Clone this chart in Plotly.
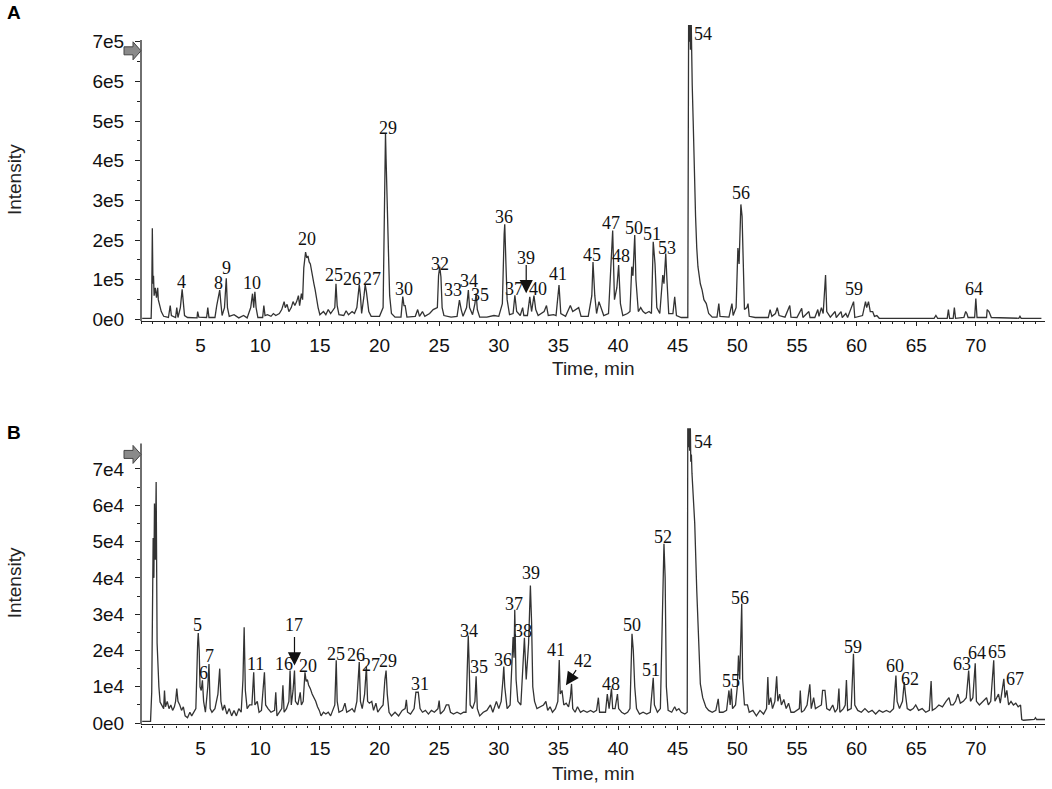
import plotly.graph_objects as go

# ---- data ----
# (time in min, intensity) ; panel A intensity in units of 1e5, panel B in 1e4
trace_a = [
    (0.1, 0.03), (0.85, 0.03), (0.9, 0.6), (0.95, 2.3), (1.0, 0.9), (1.05, 1.1), (1.1, 0.6),
    (1.2, 0.8), (1.3, 0.55), (1.4, 0.8), (1.45, 0.5), (1.55, 0.35), (1.7, 0.2), (1.9, 0.08),
    (2.3, 0.05), (2.45, 0.35), (2.55, 0.1), (2.9, 0.05), (3.0, 0.3), (3.1, 0.05), (3.3, 0.3),
    (3.45, 0.76), (3.55, 0.35), (3.65, 0.1), (3.9, 0.05), (4.7, 0.04), (4.75, 0.2), (4.85, 0.06),
    (5.5, 0.05), (5.6, 0.3), (5.7, 0.05), (6.2, 0.05), (6.35, 0.35), (6.5, 0.6), (6.6, 0.74),
    (6.7, 0.4), (6.8, 0.1), (7.0, 0.3), (7.15, 1.04), (7.25, 0.3), (7.4, 0.08), (7.8, 0.12),
    (8.2, 0.04), (8.6, 0.1), (8.9, 0.04), (9.2, 0.3), (9.35, 0.65), (9.45, 0.3), (9.55, 0.7),
    (9.65, 0.3), (9.8, 0.05), (10.2, 0.05), (10.3, 0.35), (10.4, 0.1), (10.6, 0.12), (10.9, 0.08),
    (11.1, 0.15), (11.3, 0.1), (11.6, 0.15), (11.8, 0.25), (12.0, 0.45), (12.1, 0.3), (12.25, 0.38),
    (12.4, 0.2), (12.6, 0.3), (12.75, 0.45), (12.9, 0.35), (13.05, 0.45), (13.2, 0.6), (13.3, 0.35),
    (13.45, 0.65), (13.55, 0.5), (13.65, 1.3), (13.8, 1.7), (13.9, 1.55), (14.0, 1.6), (14.1, 1.45),
    (14.2, 1.4), (14.3, 1.2), (14.4, 1.1), (14.5, 0.9), (14.6, 0.75), (14.7, 0.55), (14.85, 0.3),
    (15.0, 0.12), (15.3, 0.2), (15.5, 0.12), (15.7, 0.25), (15.9, 0.15), (16.1, 0.25), (16.25, 0.3),
    (16.35, 0.9), (16.45, 0.35), (16.6, 0.12), (17.0, 0.1), (17.2, 0.22), (17.4, 0.12), (17.7, 0.2),
    (17.9, 0.15), (18.1, 0.3), (18.3, 0.88), (18.4, 0.6), (18.5, 0.15), (18.7, 0.6), (18.8, 0.88),
    (18.9, 0.7), (19.0, 0.5), (19.1, 0.2), (19.3, 0.08), (20.0, 0.08), (20.3, 0.3), (20.4, 2.1),
    (20.5, 4.7), (20.55, 4.05), (20.65, 2.5), (20.75, 1.7), (20.85, 0.6), (21.0, 0.15), (21.3, 0.06),
    (21.8, 0.06), (21.95, 0.58), (22.05, 0.35), (22.15, 0.35), (22.3, 0.06), (23.0, 0.08),
    (23.2, 0.25), (23.35, 0.08), (23.6, 0.2), (23.8, 0.08), (24.2, 0.15), (24.5, 0.25), (24.7, 0.28),
    (24.85, 0.3), (24.95, 1.1), (25.05, 1.33), (25.15, 1.07), (25.25, 0.3), (25.4, 0.1), (26.0, 0.06),
    (26.5, 0.08), (26.7, 0.49), (26.85, 0.25), (27.0, 0.08), (27.3, 0.3), (27.45, 0.74), (27.55, 0.3),
    (27.8, 0.12), (28.0, 0.4), (28.1, 0.66), (28.2, 0.25), (28.4, 0.06), (29.0, 0.06), (29.6, 0.1),
    (30.0, 0.08), (30.3, 0.4), (30.45, 2.15), (30.5, 2.4), (30.6, 1.4), (30.7, 0.5), (30.9, 0.12),
    (31.2, 0.15), (31.35, 0.61), (31.5, 0.2), (31.8, 0.1), (32.0, 0.3), (32.1, 0.1), (32.4, 0.1),
    (32.6, 0.57), (32.75, 0.2), (32.95, 0.6), (33.1, 0.25), (33.3, 0.1), (33.8, 0.2), (34.0, 0.35),
    (34.15, 0.1), (34.6, 0.12), (34.8, 0.1), (35.05, 0.87), (35.2, 0.15), (35.6, 0.08), (36.0, 0.35),
    (36.2, 0.2), (36.45, 0.25), (36.7, 0.3), (36.9, 0.08), (37.5, 0.08), (37.8, 0.6), (37.9, 1.45),
    (38.05, 0.6), (38.2, 0.15), (38.4, 0.45), (38.55, 0.3), (38.8, 0.1), (39.2, 0.15), (39.4, 1.2),
    (39.55, 2.24), (39.7, 0.5), (39.9, 0.8), (40.05, 1.37), (40.2, 0.4), (40.4, 0.1), (40.8, 0.15),
    (41.0, 0.2), (41.15, 1.33), (41.25, 1.1), (41.4, 2.13), (41.5, 1.0), (41.7, 0.2), (41.9, 0.3),
    (42.1, 0.2), (42.3, 0.15), (42.6, 0.2), (42.8, 0.15), (42.95, 1.96), (43.1, 1.4), (43.25, 0.3),
    (43.5, 0.15), (43.75, 1.12), (43.85, 0.9), (44.0, 1.66), (44.1, 1.0), (44.25, 0.15), (44.6, 0.15),
    (44.75, 0.57), (44.9, 0.1), (45.3, 0.05), (45.85, 0.05), (45.92, 7.8), (45.97, 7.0), (46.02, 7.8),
    (46.07, 6.8), (46.12, 7.8), (46.17, 6.2), (46.22, 5.9), (46.3, 5.0), (46.4, 3.3), (46.5, 2.6),
    (46.6, 1.8), (46.7, 1.33), (46.9, 0.9),
    (47.05, 0.74), (47.2, 0.5), (47.4, 0.4), (47.6, 0.15), (47.9, 0.06), (48.3, 0.06), (48.45, 0.4),
    (48.55, 0.08), (49.3, 0.06), (49.55, 0.4), (49.65, 0.1), (49.9, 0.3), (50.05, 1.8), (50.15, 1.4),
    (50.3, 2.9), (50.4, 2.6), (50.5, 0.9), (50.6, 0.25), (50.8, 0.3), (50.9, 0.4), (51.0, 0.08),
    (51.5, 0.05), (52.6, 0.05), (52.75, 0.25), (52.9, 0.08), (53.2, 0.15), (53.35, 0.3), (53.5, 0.1),
    (54.0, 0.06), (54.4, 0.35), (54.5, 0.06), (55.0, 0.05), (55.4, 0.28), (55.5, 0.05), (56.0, 0.2),
    (56.1, 0.05), (56.5, 0.05), (56.75, 0.25), (56.85, 0.08), (57.05, 0.3), (57.2, 0.15), (57.4, 1.12),
    (57.5, 0.2), (57.8, 0.06), (58.2, 0.2), (58.3, 0.05), (58.7, 0.2), (58.8, 0.05), (59.1, 0.15),
    (59.25, 0.05), (59.75, 0.45), (59.85, 0.05), (60.5, 0.1), (60.75, 0.45), (60.85, 0.3), (61.0, 0.45),
    (61.15, 0.2), (61.35, 0.2), (61.5, 0.08), (61.7, 0.1), (61.9, 0.03), (66.5, 0.03), (66.65, 0.1),
    (66.8, 0.03), (67.6, 0.03), (67.7, 0.25), (67.8, 0.03), (68.1, 0.03), (68.2, 0.3), (68.3, 0.03),
    (69.0, 0.05), (69.15, 0.2), (69.25, 0.15), (69.35, 0.05), (69.9, 0.05), (70.0, 0.53), (70.1, 0.05),
    (70.9, 0.05), (70.95, 0.25), (71.1, 0.2), (71.3, 0.05), (73.6, 0.03), (73.7, 0.08), (73.8, 0.03),
    (75.5, 0.03),
]

trace_b = [
    (0.1, 0.05), (0.8, 0.05), (0.9, 0.85), (0.97, 3.6), (1.02, 5.1), (1.08, 4.0), (1.13, 6.05),
    (1.2, 4.5), (1.27, 6.64), (1.35, 2.2), (1.43, 1.36), (1.5, 1.0), (1.6, 0.58), (1.75, 0.5),
    (1.9, 0.4), (1.97, 0.9), (2.05, 0.45), (2.2, 0.6), (2.35, 0.4), (2.5, 0.5), (2.65, 0.35),
    (2.8, 0.45), (2.9, 0.6), (3.0, 0.95), (3.1, 0.6), (3.25, 0.5), (3.4, 0.35), (3.55, 0.45),
    (3.7, 0.2), (3.9, 0.15), (4.1, 0.3), (4.25, 0.2), (4.4, 0.3), (4.6, 0.4), (4.75, 2.2), (4.8, 2.48),
    (4.88, 2.0), (4.95, 1.0), (5.05, 0.9), (5.15, 1.18), (5.25, 0.6), (5.4, 0.3), (5.6, 1.0),
    (5.7, 1.63), (5.8, 0.4), (5.95, 0.3), (6.2, 0.4), (6.45, 0.8), (6.6, 1.5), (6.7, 0.6), (6.85, 0.35),
    (7.0, 0.5), (7.2, 0.25), (7.4, 0.4), (7.6, 0.2), (7.8, 0.35), (8.0, 0.2), (8.2, 0.4), (8.4, 0.3),
    (8.55, 1.2), (8.65, 2.64), (8.75, 0.9), (8.9, 0.4), (9.1, 0.5), (9.3, 0.5), (9.45, 1.4),
    (9.55, 0.5), (9.75, 0.6), (9.9, 0.3), (10.1, 0.35), (10.35, 1.4), (10.45, 0.5), (10.65, 0.4),
    (10.9, 0.3), (11.2, 0.35), (11.3, 0.85), (11.4, 0.2), (11.6, 0.3), (11.8, 0.4), (11.9, 1.04),
    (12.0, 0.3), (12.2, 0.4), (12.4, 0.6), (12.5, 1.45), (12.6, 0.5), (12.75, 0.9), (12.87, 1.45),
    (12.95, 0.6), (13.15, 0.5), (13.35, 0.85), (13.45, 0.5), (13.6, 0.6), (13.75, 1.4), (13.85, 1.15),
    (13.95, 1.2), (14.05, 1.05), (14.2, 0.95), (14.35, 0.8), (14.5, 0.7), (14.65, 0.6), (14.8, 0.45),
    (14.95, 0.35), (15.1, 0.2), (15.3, 0.3), (15.5, 0.25), (15.7, 0.3), (15.9, 0.2), (16.1, 0.35),
    (16.25, 0.5), (16.37, 1.73), (16.45, 0.6), (16.6, 0.3), (16.9, 0.35), (17.1, 0.55), (17.25, 0.3),
    (17.5, 0.35), (17.7, 0.4), (17.9, 0.3), (18.1, 0.6), (18.2, 1.15), (18.3, 1.68), (18.4, 0.6),
    (18.55, 0.4), (18.75, 0.8), (18.9, 1.56), (19.0, 0.6), (19.15, 0.55), (19.35, 0.6), (19.5, 0.35),
    (19.7, 0.55), (19.85, 0.3), (20.05, 0.4), (20.3, 0.5), (20.45, 1.2), (20.55, 1.45), (20.65, 0.8),
    (20.8, 0.3), (21.0, 0.2), (21.3, 0.3), (21.6, 0.2), (21.9, 0.35), (22.15, 0.4), (22.25, 0.64),
    (22.35, 0.3), (22.6, 0.25), (22.9, 0.4), (23.05, 0.85), (23.25, 0.85), (23.4, 0.4), (23.6, 0.3),
    (23.85, 0.35), (24.1, 0.25), (24.35, 0.35), (24.6, 0.3), (24.9, 0.4), (25.0, 0.62), (25.1, 0.25),
    (25.4, 0.35), (25.6, 0.5), (25.8, 0.5), (25.95, 0.3), (26.2, 0.25), (26.5, 0.3), (26.8, 0.25),
    (27.05, 0.3), (27.25, 0.3), (27.35, 1.5), (27.44, 2.41), (27.5, 1.8), (27.6, 0.5), (27.8, 0.4),
    (28.0, 0.6), (28.1, 1.29), (28.2, 0.4), (28.4, 0.2), (28.7, 0.3), (29.0, 0.35), (29.3, 0.5),
    (29.5, 0.3), (29.8, 0.6), (30.0, 0.4), (30.2, 0.6), (30.35, 1.2), (30.42, 1.56), (30.5, 1.0),
    (30.7, 0.4), (30.95, 0.5), (31.1, 1.4), (31.2, 2.37), (31.28, 1.8), (31.34, 3.12), (31.45, 1.2),
    (31.6, 0.6), (31.85, 0.5), (32.05, 1.6), (32.15, 2.35), (32.3, 1.2), (32.5, 2.2), (32.65, 3.79),
    (32.75, 2.78), (32.85, 1.0), (33.0, 0.6), (33.2, 0.4), (33.5, 0.45), (33.75, 0.5), (33.95, 0.6),
    (34.1, 0.35), (34.3, 0.45), (34.5, 0.3), (34.75, 0.4), (34.95, 0.6), (35.07, 1.74), (35.15, 0.8),
    (35.3, 0.9), (35.45, 0.5), (35.65, 0.55), (35.85, 0.45), (36.0, 0.7), (36.1, 1.08), (36.2, 0.4),
    (36.4, 0.3), (36.6, 0.45), (36.85, 0.3), (37.1, 0.35), (37.4, 0.3), (37.7, 0.35), (37.95, 0.3),
    (38.2, 0.35), (38.35, 0.7), (38.45, 0.3), (38.7, 0.3), (38.95, 0.3), (39.1, 0.8), (39.25, 0.4),
    (39.45, 0.95), (39.55, 0.4), (39.75, 0.4), (39.95, 0.8), (40.05, 0.4), (40.3, 0.3), (40.55, 0.25),
    (40.8, 0.3), (41.0, 0.4), (41.1, 1.6), (41.17, 2.46), (41.28, 2.0), (41.4, 1.0), (41.55, 0.4),
    (41.8, 0.25), (42.1, 0.3), (42.4, 0.25), (42.7, 0.3), (42.85, 0.8), (42.95, 1.25), (43.05, 0.5),
    (43.3, 0.3), (43.55, 0.4), (43.7, 2.28), (43.85, 4.94), (43.95, 4.0), (44.05, 1.0), (44.2, 0.35),
    (44.5, 0.3), (44.75, 0.45), (44.9, 0.35), (45.1, 0.4), (45.3, 0.3), (45.6, 0.25), (45.8, 0.3),
    (45.85, 8.5), (45.9, 7.6), (45.95, 8.5), (46.0, 7.5), (46.05, 8.5), (46.1, 7.2), (46.15, 7.4),
    (46.2, 6.87), (46.3, 6.2), (46.43, 5.5),
    (46.6, 3.65), (46.74, 2.19), (46.9, 1.08), (47.1, 0.7), (47.37, 0.44), (47.6, 0.35), (47.9, 0.3),
    (48.2, 0.35), (48.4, 0.67), (48.5, 0.3), (48.8, 0.3), (49.1, 0.35), (49.3, 0.9), (49.4, 0.5),
    (49.5, 0.95), (49.6, 0.4), (49.85, 0.5), (50.0, 1.0), (50.1, 1.86), (50.2, 1.2), (50.37, 3.29),
    (50.45, 1.2), (50.6, 0.5), (50.85, 0.5), (51.0, 0.3), (51.3, 0.35), (51.6, 0.2), (51.9, 0.35),
    (52.2, 0.25), (52.45, 0.4), (52.56, 1.27), (52.65, 0.5), (52.8, 0.7), (52.95, 0.4), (53.15, 0.6),
    (53.3, 1.29), (53.4, 0.6), (53.55, 0.8), (53.7, 0.5), (53.9, 0.65), (54.1, 0.4), (54.3, 0.55),
    (54.5, 0.3), (54.75, 0.3), (55.0, 0.35), (55.2, 0.4), (55.28, 0.9), (55.38, 0.3), (55.6, 0.35),
    (55.85, 0.5), (56.08, 1.07), (56.2, 0.4), (56.4, 0.7), (56.55, 0.4), (56.8, 0.45), (57.05, 0.5),
    (57.15, 0.9), (57.35, 0.9), (57.5, 0.4), (57.75, 0.35), (58.0, 0.5), (58.2, 0.3), (58.4, 0.4),
    (58.52, 0.95), (58.6, 0.3), (58.9, 0.4), (59.05, 0.5), (59.15, 1.19), (59.25, 0.35), (59.55, 0.4),
    (59.74, 1.91), (59.85, 0.5), (60.1, 0.35), (60.4, 0.3), (60.7, 0.4), (61.0, 0.3), (61.3, 0.35),
    (61.6, 0.25), (61.9, 0.35), (62.2, 0.3), (62.5, 0.35), (62.8, 0.3), (63.1, 0.4), (63.2, 0.9),
    (63.3, 1.31), (63.4, 0.6), (63.6, 0.4), (63.85, 0.6), (64.0, 1.13), (64.1, 0.8), (64.25, 0.4),
    (64.5, 0.35), (64.75, 0.4), (64.96, 0.5), (65.2, 0.35), (65.5, 0.4), (65.8, 0.3), (66.1, 0.35),
    (66.25, 1.16), (66.35, 0.35), (66.6, 0.4), (66.9, 0.5), (67.2, 0.45), (67.5, 0.6), (67.75, 0.7),
    (67.9, 0.5), (68.1, 0.5), (68.3, 0.6), (68.5, 0.8), (68.7, 0.55), (68.95, 0.6), (69.2, 0.7),
    (69.4, 1.45), (69.55, 0.6), (69.75, 0.7), (69.95, 1.65), (70.05, 0.6), (70.3, 0.5), (70.6, 0.6),
    (70.9, 0.7), (71.05, 0.5), (71.25, 0.6), (71.5, 1.73), (71.6, 0.6), (71.75, 0.7), (71.9, 0.8),
    (72.05, 0.55), (72.2, 0.9), (72.35, 1.22), (72.45, 0.7), (72.6, 0.9), (72.75, 0.5), (72.95, 0.6),
    (73.15, 0.5), (73.35, 0.55), (73.55, 0.45), (73.75, 0.5), (73.85, 0.1), (74.0, 0.08), (74.9, 0.1),
    (75.0, 0.15), (75.1, 0.1), (75.8, 0.1),
]

# peak numbers printed above the peaks
peaks_a_text = ['4', '8', '9', '10', '20', '25', '26', '27', '29', '30', '32', '33', '34', '35', '36',
                '37', '39', '40', '41', '45', '47', '48', '50', '51', '53', '54', '56', '59', '64']
peaks_a_time = [3.4, 6.46, 7.2, 9.27, 13.93, 16.2, 17.7, 19.35, 20.73, 22.07, 25.07, 26.19, 27.5, 28.45,
                30.4, 31.3, 32.3, 33.25, 35.0, 37.8, 39.45, 40.26, 41.3, 42.85, 44.1, 47.1, 50.28, 59.8, 69.87]
peaks_a_int = [0.95, 0.92, 1.3, 0.91, 2.04, 1.12, 1.01, 1.01, 4.82, 0.78, 1.41, 0.74, 0.97, 0.62, 2.59,
               0.78, 1.56, 0.78, 1.14, 1.62, 2.44, 1.6, 2.31, 2.16, 1.81, 7.2, 3.18, 0.76, 0.76]

peaks_b_text = ['5', '6', '7', '11', '16', '17', '20', '25', '26', '27', '29', '31', '34', '35', '36',
                '37', '38', '39', '41', '42', '48', '50', '51', '52', '54', '55', '56', '59', '60', '62',
                '63', '64', '65', '67']
peaks_b_time = [4.72, 5.2, 5.76, 9.58, 11.96, 12.86, 13.99, 16.32, 18.06, 19.3, 20.73, 23.4, 27.5,
                28.3, 30.37, 31.27, 32.04, 32.73, 34.83, 37.1, 39.43, 41.2, 42.8, 43.8, 47.1, 49.46,
                50.23, 59.74, 63.22, 64.5, 68.8, 70.09, 71.76, 73.26]
peaks_b_int = [2.71, 1.38, 1.86, 1.62, 1.62, 2.69, 1.56, 1.91, 1.88, 1.6, 1.71, 1.08, 2.55, 1.54, 1.73,
               3.29, 2.53, 4.13, 2.0, 1.71, 1.08, 2.71, 1.47, 5.12, 7.74, 1.16, 3.45, 2.09, 1.56, 1.22,
               1.63, 1.93, 1.96, 1.22]

# arrows pointing to minor peaks: (head time, head int, tail time, tail int)
arrows_a = [(32.3, 0.66, 32.3, 1.41)]
arrows_b = [(12.87, 1.59, 12.87, 2.41), (35.63, 1.04, 36.57, 1.5)]

time_ticks = [5, 10, 15, 20, 25, 30, 35, 40, 45, 50, 55, 60, 65, 70]
int_ticks = [0, 1, 2, 3, 4, 5, 6, 7]
int_labels_a = ['0e0', '1e5', '2e5', '3e5', '4e5', '5e5', '6e5', '7e5']
int_labels_b = ['0e0', '1e4', '2e4', '3e4', '4e4', '5e4', '6e4', '7e4']
minor_ticks = [0.5, 1.5, 2.5, 3.5, 4.5, 5.5, 6.5]
# level of the grey marker arrow and top of the drawn intensity axis
marker_level_a, axis_top_a = 6.77, 7.04
marker_level_b, axis_top_b = 7.4, 7.7

# ---- figure ----
W, H = 1052, 789
KY = 0.988   # the page photo comes out slightly squeezed vertically; compensate
line_col = '#333333'
axis_col = '#222222'
sans = 'Liberation Sans, Arial, sans-serif'
serif = 'Liberation Serif, Times New Roman, serif'


def px(pix):
    return pix / W


def py(pix):
    # pixel row from the top -> paper fraction
    return 1 - pix / (KY * H)


fig = go.Figure()
fig.add_trace(go.Scatter(x=[p[0] for p in trace_a], y=[p[1] for p in trace_a], mode='lines',
                         line=dict(color=line_col, width=1.3), xaxis='x', yaxis='y', hoverinfo='skip'))
fig.add_trace(go.Scatter(x=[p[0] for p in trace_b], y=[p[1] for p in trace_b], mode='lines',
                         line=dict(color=line_col, width=1.3), xaxis='x2', yaxis='y2', hoverinfo='skip'))

xdom = [px(141), px(1045)]


def xax(anchor):
    return dict(domain=xdom, range=[0, 75.8], anchor=anchor, showline=True, linecolor=axis_col,
                linewidth=1.3, tickvals=time_ticks, ticks='outside', ticklen=4, tickcolor=axis_col,
                minor=dict(dtick=1, tick0=0, ticks='outside', ticklen=2, tickcolor=axis_col),
                ticklabelstandoff=3, tickfont=dict(family=sans, size=19, color='#111'),
                showgrid=False, zeroline=False)


def yax(anchor, dom, rng, labels):
    return dict(domain=dom, range=rng, anchor=anchor, showline=False,
                tickvals=int_ticks, ticktext=labels, ticks='outside', ticklen=5, tickcolor=axis_col,
                ticklabelstandoff=7, tickfont=dict(family=sans, size=19, color='#111'),
                minor=dict(tickvals=minor_ticks, ticks='outside', ticklen=3, tickcolor=axis_col),
                showgrid=False, zeroline=False)


annotations = []
for txt, t, v in zip(peaks_a_text, peaks_a_time, peaks_a_int):
    annotations.append(dict(x=t, y=v, xref='x', yref='y', text=txt, showarrow=False,
                            font=dict(family=serif, size=18, color='#111')))
for txt, t, v in zip(peaks_b_text, peaks_b_time, peaks_b_int):
    annotations.append(dict(x=t, y=v, xref='x2', yref='y2', text=txt, showarrow=False,
                            font=dict(family=serif, size=18, color='#111')))
for refs, arrows in ((('x', 'y'), arrows_a), (('x2', 'y2'), arrows_b)):
    for hx, hy, tx, ty in arrows:
        annotations.append(dict(x=hx, y=hy, ax=tx, ay=ty, xref=refs[0], yref=refs[1],
                                axref=refs[0], ayref=refs[1], text='', showarrow=True,
                                arrowhead=2, arrowsize=2.2, arrowwidth=1.2, arrowcolor='#111'))

for txt, yp in (('A', 12), ('B', 432)):
    annotations.append(dict(x=px(5), y=py(yp), xref='paper', yref='paper', text='<b>%s</b>' % txt,
                            xanchor='left', yanchor='middle', showarrow=False,
                            font=dict(family=sans, size=19, color='black')))
for yp in (180, 583):
    annotations.append(dict(x=px(14), y=py(yp), xref='paper', yref='paper', text='Intensity',
                            textangle=-90, showarrow=False, xanchor='center', yanchor='middle',
                            font=dict(family=sans, size=19, color='#222')))
for yp in (368, 773):
    annotations.append(dict(x=px(593), y=py(yp), xref='paper', yref='paper', text='Time, min',
                            showarrow=False, xanchor='center', yanchor='middle',
                            font=dict(family=sans, size=19, color='#222')))

arrow_path = 'M -17,-4 L -8,-4 L -8,-9 L 0,0 L -8,9 L -8,4 L -17,4 Z'
shapes = []
for yr, lvl, top, bottom in (('y', marker_level_a, axis_top_a, -0.043),
                             ('y2', marker_level_b, axis_top_b, -0.036)):
    shapes.append(dict(type='line', xref='paper', yref=yr, x0=xdom[0], x1=xdom[0], y0=bottom, y1=top,
                       line=dict(color=axis_col, width=1.3)))
    shapes.append(dict(type='path', path=arrow_path, xref='paper', yref=yr, xsizemode='pixel',
                       ysizemode='pixel', xanchor=xdom[0], yanchor=lvl, fillcolor='#8a8a8a',
                       line=dict(color='#444', width=1), layer='above'))

fig.update_layout(
    width=W, height=H, autosize=False,
    margin=dict(l=0, r=0, t=0, b=0),
    paper_bgcolor='white', plot_bgcolor='white',
    showlegend=False, hovermode=False,
    xaxis=xax('y'),
    yaxis=yax('x', [py(321), py(25)], [-0.043, 7.42], int_labels_a),
    xaxis2=xax('y2'),
    yaxis2=yax('x2', [py(724), py(428)], [-0.036, 8.12], int_labels_b),
    annotations=annotations,
    shapes=shapes,
)

fig.write_html('out.html', config={'displayModeBar': False},
               post_script="document.body.style.margin='0';")
